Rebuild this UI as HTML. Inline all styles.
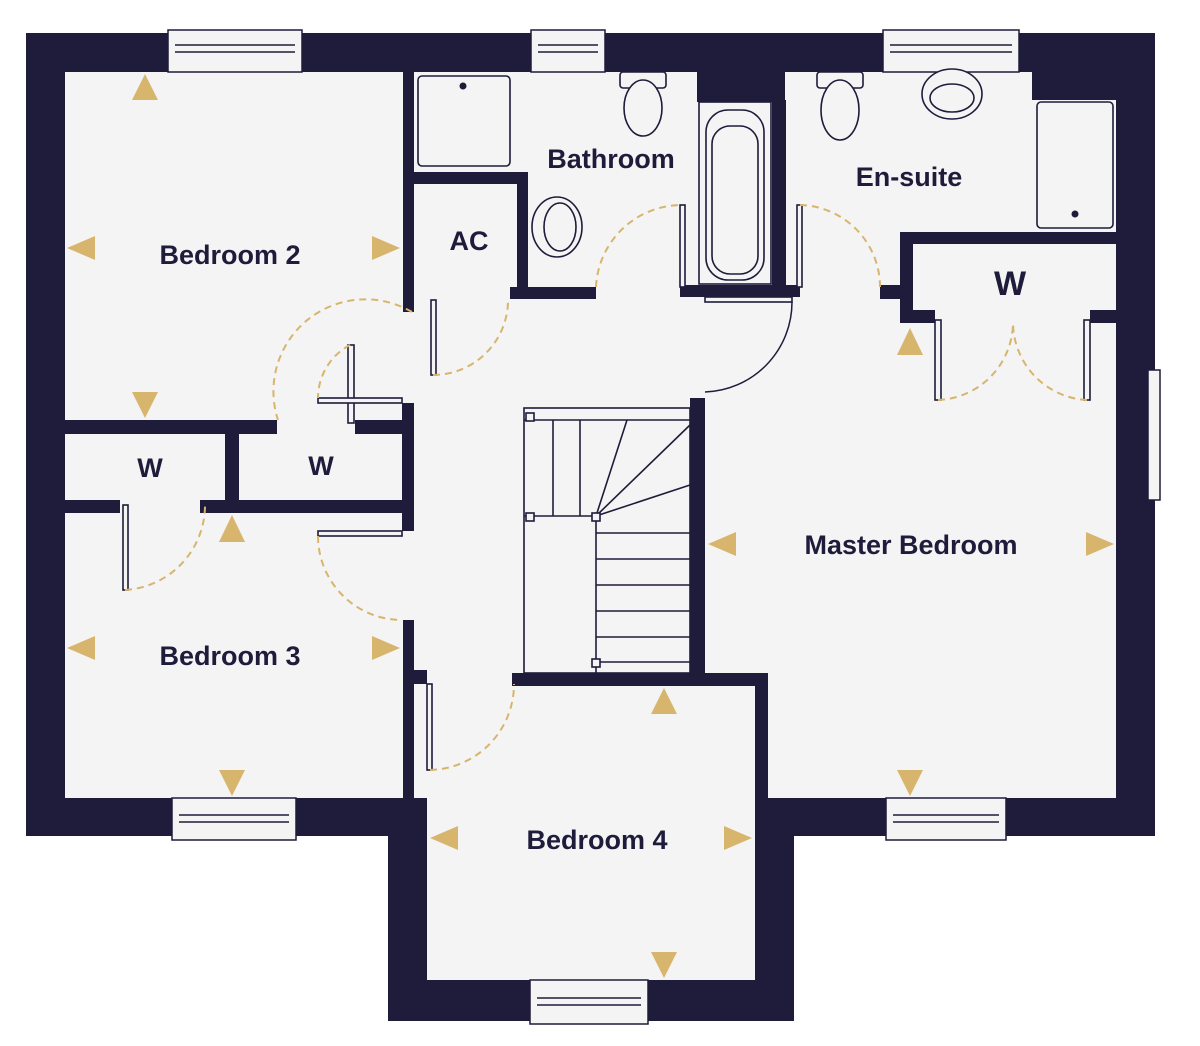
<!DOCTYPE html>
<html><head><style>html,body{margin:0;padding:0;background:#fff}svg{display:block}</style></head>
<body>
<svg width="1200" height="1046" viewBox="0 0 1200 1046" xmlns="http://www.w3.org/2000/svg" font-family="Liberation Sans, sans-serif">
<rect width="1200" height="1046" fill="#fff"/>
<!-- outer walls -->
<path d="M26 33H1155V836H794V1021H388V836H26Z" fill="#1e1c3a"/>
<!-- floor -->
<path d="M65 72H697V100H785V72H1032V100H1116V798H768V686H755V980H427V798H65Z" fill="#f4f4f4"/>
<g fill="#1e1c3a">
<!-- bathroom/ensuite thick wall -->
<rect x="697" y="72" width="88" height="30"/>
<rect x="772" y="100" width="14" height="195"/>
<!-- bed2 right wall -->
<rect x="403" y="72" width="11" height="240"/>
<!-- AC -->
<rect x="413" y="172" width="115" height="12"/>
<rect x="517" y="172" width="11" height="124"/>
<rect x="510" y="287" width="86" height="12"/>
<!-- bath bottom -->
<rect x="680" y="285" width="120" height="12"/>
<!-- bed2 bottom / W closets -->
<rect x="65" y="420" width="212" height="14"/>
<rect x="225" y="434" width="14" height="70"/>
<rect x="200" y="500" width="214" height="13"/>
<rect x="65" y="500" width="55" height="13"/>
<rect x="402" y="403" width="12" height="128"/>
<rect x="355" y="420" width="58" height="14"/>
<!-- bed3 right wall -->
<rect x="403" y="620" width="11" height="178"/>
<rect x="413" y="670" width="14" height="14"/>
<!-- stair wall -->
<rect x="690" y="398" width="15" height="288"/>
<rect x="512" y="673" width="256" height="13"/>
<rect x="755" y="673" width="13" height="125"/>
<!-- master W -->
<rect x="900" y="232" width="216" height="12"/>
<rect x="900" y="232" width="13" height="91"/>
<rect x="900" y="310" width="35" height="13"/>
<rect x="1090" y="310" width="26" height="13"/>
<rect x="880" y="285" width="20" height="14"/>
</g>
<!-- windows -->
<g fill="#f4f4f4" stroke="#1e1c3a" stroke-width="1.5">
<rect x="168" y="30" width="134" height="42"/><line x1="175" y1="45" x2="295" y2="45"/><line x1="175" y1="52" x2="295" y2="52"/>
<rect x="531" y="30" width="74" height="42"/><line x1="538" y1="45" x2="598" y2="45"/><line x1="538" y1="52" x2="598" y2="52"/>
<rect x="883" y="30" width="136" height="42"/><line x1="890" y1="45" x2="1012" y2="45"/><line x1="890" y1="52" x2="1012" y2="52"/>
<rect x="172" y="798" width="124" height="42"/><line x1="179" y1="815" x2="289" y2="815"/><line x1="179" y1="822" x2="289" y2="822"/>
<rect x="886" y="798" width="120" height="42"/><line x1="893" y1="815" x2="999" y2="815"/><line x1="893" y1="822" x2="999" y2="822"/>
<rect x="530" y="980" width="118" height="44"/><line x1="537" y1="998" x2="641" y2="998"/><line x1="537" y1="1005" x2="641" y2="1005"/>
<rect x="1148" y="370" width="12" height="130"/>
</g>
<!-- fixtures -->
<g fill="#f4f4f4" stroke="#1e1c3a" stroke-width="1.6">
<rect x="418" y="76" width="92" height="90" rx="4"/>
<rect x="1037" y="102" width="76" height="126" rx="4"/>
<rect x="699" y="102" width="72" height="182"/>
<rect x="706" y="110" width="58" height="170" rx="22"/>
<rect x="712" y="126" width="46" height="148" rx="18"/>
<rect x="620" y="72" width="46" height="16" rx="3"/>
<ellipse cx="643" cy="108" rx="19" ry="28"/>
<rect x="817" y="72" width="46" height="16" rx="3"/>
<ellipse cx="840" cy="110" rx="19" ry="30"/>
<ellipse cx="952" cy="94" rx="30" ry="25"/>
<ellipse cx="952" cy="98" rx="22" ry="14"/>
<ellipse cx="557" cy="227" rx="25" ry="30"/>
<ellipse cx="560" cy="227" rx="16" ry="24"/>
<!-- door leaves -->
<rect x="431" y="300" width="5" height="75"/>
<rect x="123" y="505" width="5" height="85"/>
<rect x="348" y="345" width="6" height="78"/>
<rect x="318" y="398" width="84" height="5"/>
<rect x="318" y="531" width="84" height="5"/>
<rect x="427" y="684" width="5" height="86"/>
<rect x="680" y="205" width="5" height="82"/>
<rect x="797" y="205" width="5" height="82"/>
<rect x="935" y="320" width="6" height="80"/>
<rect x="1084" y="320" width="6" height="80"/>
<rect x="705" y="297" width="87" height="5"/>
<!-- stairs -->
<rect x="524" y="408" width="166" height="265" fill="none"/>
<line x1="524" y1="420" x2="690" y2="420"/>
<line x1="524" y1="516" x2="596" y2="516"/>
<line x1="596" y1="516" x2="596" y2="673"/>
<line x1="553" y1="420" x2="553" y2="516"/>
<line x1="580" y1="420" x2="580" y2="516"/>
<line x1="596" y1="516" x2="627" y2="420"/>
<line x1="596" y1="516" x2="690" y2="425"/>
<line x1="596" y1="516" x2="690" y2="485"/>
<line x1="596" y1="533" x2="690" y2="533"/>
<line x1="596" y1="559" x2="690" y2="559"/>
<line x1="596" y1="585" x2="690" y2="585"/>
<line x1="596" y1="611" x2="690" y2="611"/>
<line x1="596" y1="637" x2="690" y2="637"/>
<line x1="596" y1="662" x2="690" y2="662"/>
<rect x="526" y="413" width="8" height="8"/><rect x="526" y="513" width="8" height="8"/><rect x="592" y="513" width="8" height="8"/><rect x="592" y="659" width="8" height="8"/>
</g>
<g fill="#1e1c3a"><circle cx="463" cy="86" r="3.5"/><circle cx="1075" cy="214" r="3.5"/></g>
<!-- door swings -->
<g fill="none" stroke="#d7b56d" stroke-width="2" stroke-dasharray="7 5">
<path d="M433 375 A75 75 0 0 0 508 298"/>
<path d="M412 312 A92 92 0 0 0 278 420"/>
<path d="M350 345 A60 60 0 0 0 318 398"/>
<path d="M125 590 A85 85 0 0 0 205 505"/>
<path d="M318 536 A84 84 0 0 0 402 620"/>
<path d="M430 770 A86 86 0 0 0 514 684"/>
<path d="M596 287 A86 86 0 0 1 682 205"/>
<path d="M800 205 A82 82 0 0 1 880 287"/>
<path d="M938 400 A78 78 0 0 0 1013 322"/>
<path d="M1087 400 A78 78 0 0 1 1013 322"/>
</g>
<path d="M792 302 A90 90 0 0 1 705 392" fill="none" stroke="#1e1c3a" stroke-width="1.5"/>
<!-- gold arrows -->
<g fill="#d7b56d">
<polygon points="145,74 132,100 158,100"/>
<polygon points="67,248 95,236 95,260"/>
<polygon points="400,248 372,236 372,260"/>
<polygon points="145,418 132,392 158,392"/>
<polygon points="232,515 219,542 245,542"/>
<polygon points="67,648 95,636 95,660"/>
<polygon points="400,648 372,636 372,660"/>
<polygon points="232,796 219,770 245,770"/>
<polygon points="910,328 897,355 923,355"/>
<polygon points="708,544 736,532 736,556"/>
<polygon points="1114,544 1086,532 1086,556"/>
<polygon points="910,796 897,770 923,770"/>
<polygon points="664,688 651,714 677,714"/>
<polygon points="430,838 458,826 458,850"/>
<polygon points="752,838 724,826 724,850"/>
<polygon points="664,978 651,952 677,952"/>
</g>
<!-- labels -->
<g fill="#1e1c3a" font-weight="bold" font-size="27" text-anchor="middle">
<text x="230" y="264">Bedroom 2</text>
<text x="611" y="168">Bathroom</text>
<text x="469" y="250">AC</text>
<text x="909" y="186">En-suite</text>
<text x="1010" y="295" font-size="34">W</text>
<text x="150" y="477">W</text>
<text x="321" y="475">W</text>
<text x="911" y="554">Master Bedroom</text>
<text x="230" y="665">Bedroom 3</text>
<text x="597" y="849">Bedroom 4</text>
</g>
</svg>
</body></html>
